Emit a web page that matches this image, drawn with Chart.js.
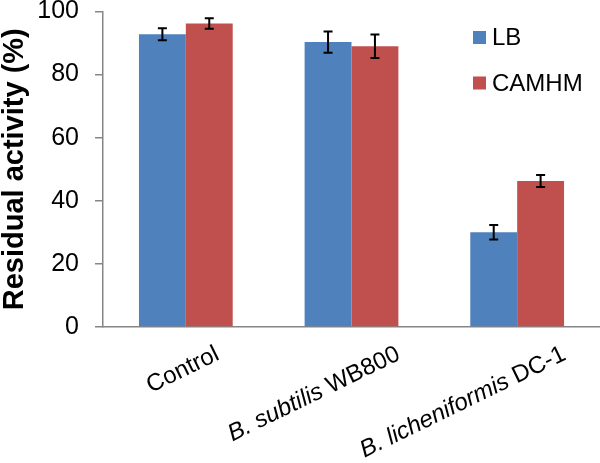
<!DOCTYPE html>
<html>
<head>
<meta charset="utf-8">
<script src="https://cdn.jsdelivr.net/npm/chart.js@4"></script>
<style>
  html, body { margin: 0; padding: 0; background: #fff; }
  #wrap { width: 600px; height: 463px; }
</style>
</head>
<body>
<div id="wrap"><canvas id="myChart" width="600" height="463"></canvas></div>
<script>
// categories: italic species part + plain strain part
const categories = ['Control', 'B. subtilis WB800', 'B. licheniformis DC-1']
const catItalic = ['', 'B. subtilis', 'B. licheniformis']
const catPlain = ['Control', ' WB800', ' DC-1']

const seriesNames = ['LB', 'CAMHM']
const lbValues = [92.8, 90.3, 30.0]
const camhmValues = [96.2, 89.0, 46.3]
const lbErrors = [1.9, 3.4, 2.3]
const camhmErrors = [1.7, 3.7, 1.9]

const yTicks = [0, 20, 40, 60, 80, 100]

const FONT = '"Liberation Sans", Arial, sans-serif'

const errorBars = {
    id: 'errorBars',
    afterDatasetsDraw(chart) {
        const ctx = chart.ctx
        const y = chart.scales.y
        ctx.save()
        ctx.strokeStyle = '#000'
        ctx.lineWidth = 2
        chart.data.datasets.forEach((ds, di) => {
            const meta = chart.getDatasetMeta(di)
            meta.data.forEach((bar, i) => {
                const v = ds.data[i]
                const e = ds.errors[i]
                const top = y.getPixelForValue(v + e)
                const bot = y.getPixelForValue(v - e)
                const x = bar.x
                ctx.beginPath()
                ctx.moveTo(x, top); ctx.lineTo(x, bot)
                ctx.moveTo(x - 4.5, top); ctx.lineTo(x + 4.5, top)
                ctx.moveTo(x - 4.5, bot); ctx.lineTo(x + 4.5, bot)
                ctx.stroke()
            })
        })
        ctx.restore()
    }
}

// rotated category labels, italic species names
const xLabels = {
    id: 'xLabels',
    afterDraw(chart) {
        const ctx = chart.ctx
        const xs = chart.scales.x
        const base = chart.chartArea.bottom
        const ang = 26 * Math.PI / 180
        ctx.save()
        ctx.fillStyle = '#000'
        ctx.textBaseline = 'alphabetic'
        categories.forEach((c, i) => {
            const fi = 'italic 24px ' + FONT
            const fn = '24px ' + FONT
            ctx.font = fi
            const wi = ctx.measureText(catItalic[i]).width
            ctx.font = fn
            const wn = ctx.measureText(catPlain[i]).width
            // centred under the tick, but the end never goes past +50px
            const shift = Math.min((wi + wn) * Math.cos(ang) / 2, 50)
            const px = xs.getPixelForTick(i) + shift
            ctx.save()
            ctx.translate(px, base + 32)
            ctx.rotate(-ang)
            ctx.textAlign = 'left'
            ctx.font = fi
            ctx.fillText(catItalic[i], -(wi + wn), 0)
            ctx.font = fn
            ctx.fillText(catPlain[i], -wn, 0)
            ctx.restore()
        })
        ctx.restore()
    }
}

const legendBox = {
    id: 'legendBox',
    afterDraw(chart) {
        const ctx = chart.ctx
        ctx.save()
        ctx.font = '24px ' + FONT
        ctx.textBaseline = 'middle'
        ctx.textAlign = 'left'
        chart.data.datasets.forEach((ds, i) => {
            const cy = 37.5 + i * 45.5
            ctx.fillStyle = ds.backgroundColor
            ctx.fillRect(473, cy - 6.5, 13, 13)
            ctx.fillStyle = '#000'
            ctx.fillText(ds.label, 492, cy + 1)
        })
        ctx.restore()
    }
}

const data = {
    labels: categories,
    datasets: [{
        label: seriesNames[0],
        data: lbValues,
        errors: lbErrors,
        backgroundColor: '#4F81BD'
    }, {
        label: seriesNames[1],
        data: camhmValues,
        errors: camhmErrors,
        backgroundColor: '#C0504D'
    }]
}

const config = {
    type: 'bar',
    data: data,
    options: {
        responsive: false,
        animation: false,
        categoryPercentage: 0.566,
        barPercentage: 1.0,
        layout: { padding: { top: 11.5, right: 0, left: 0, bottom: 0 } },
        plugins: {
            legend: { display: false },
            tooltip: { enabled: false }
        },
        scales: {
            x: {
                grid: { display: false },
                border: { color: '#868686', width: 1.5 },
                ticks: { display: false },
                afterFit: s => { s.height = 136; s.paddingLeft = 0; s.paddingRight = 0 }
            },
            y: {
                min: 0,
                max: 100,
                afterBuildTicks: s => { s.ticks = yTicks.map(v => ({ value: v })) },
                grid: { drawOnChartArea: false, drawTicks: true, tickLength: 8, color: '#868686', lineWidth: 1.5 },
                border: { color: '#868686', width: 1.5 },
                ticks: {
                    color: '#000',
                    padding: 16,
                    font: { family: FONT, size: 25 }
                },
                title: {
                    display: true,
                    text: 'Residual activity (%)',
                    color: '#000',
                    padding: 0,
                    font: { family: FONT, size: 29, weight: 'bold', lineHeight: 1 }
                },
                afterFit: s => { s.width = 103; s.paddingTop = 0; s.paddingBottom = 0 }
            }
        }
    },
    plugins: [errorBars, xLabels, legendBox]
}

const myChart = new Chart(
    document.getElementById('myChart'),
    config
)
</script>
</body>
</html>
